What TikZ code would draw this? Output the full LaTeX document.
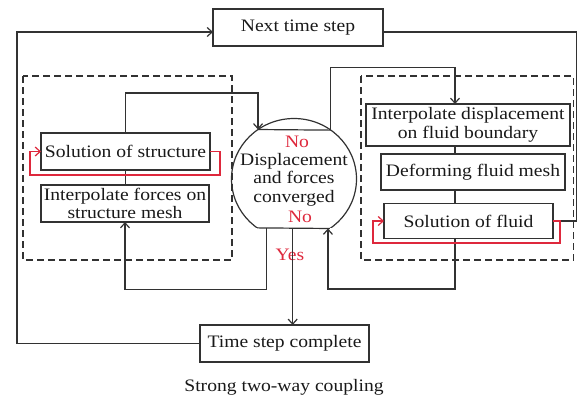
\documentclass[tikz,border=0pt]{standalone}
\usepackage{fontspec}
\setmainfont[FakeStretch=1.12]{Liberation Serif}
\usetikzlibrary{arrows.meta,shapes.geometric}
\definecolor{ink}{RGB}{50,50,50}
\definecolor{redline}{RGB}{222,40,60}
\definecolor{textc}{RGB}{25,25,25}
\begin{document}
\begin{tikzpicture}[x=1pt,y=-1pt,
  box/.style={draw=ink,line width=1.2pt,inner sep=0pt,outer sep=0pt,align=center,text=textc,font=\fontsize{17.5}{18.5}\selectfont},
  conn/.style={draw=ink,line width=1.2pt},
  arr/.style={conn,-{Straight Barb[length=5pt,width=9pt]}},
  redarr/.style={draw=redline,line width=1.2pt,-{Straight Barb[length=5pt,width=9pt]}},
  group/.style={draw=ink,line width=1.2pt,dash pattern=on 7pt off 4pt},
  lbl/.style={text=redline,font=\fontsize{17.5}{18.5}\selectfont,inner sep=0pt}]
\useasboundingbox (0,0) rectangle (578,399);

% dashed groups
\draw[group] (23,76) rectangle (232,260);
\draw[group] (361,76) rectangle (573.5,260);

% boxes
\node[box,minimum width=170pt,minimum height=37pt] (next) at (298,27.5) {Next time step};
\node[box,minimum width=169pt,minimum height=37pt] (sos) at (125.5,151.5) {Solution of structure};
\node[box,minimum width=168pt,minimum height=37pt] (ifs) at (125,203.5) {Interpolate forces on\\structure mesh};
\node[box,minimum width=204pt,minimum height=42pt] (idf) at (468,125) {Interpolate displacement\\on fluid boundary};
\node[box,minimum width=184pt,minimum height=36pt] (dfm) at (473,172) {Deforming fluid mesh};
\node[box,minimum width=169pt,minimum height=35pt] (sof) at (468.5,221) {Solution of fluid};
\node[box,minimum width=169pt,minimum height=37pt] (tsc) at (284.5,343.5) {Time step complete};

% convergence ellipse (bottom cap cut off)
\begin{scope}
  \clip (200,100) rectangle (400,227.5);
  \node[draw=ink,line width=1.2pt,ellipse,inner sep=0pt,outer sep=0pt,minimum width=125pt,minimum height=121pt] (conv) at (294,179) {};
\end{scope}
\node[box,draw=none] (convtext) at (294,179.5) {Displacement\\and forces\\converged};
\draw[conn] (conv.126.7) -- (conv.53.3);
\draw[conn] (conv.233.4) -- (conv.306.6);

% red labels
\node[lbl] (no1) at (297,142) {No};
\node[lbl] (no2) at (300,216.5) {No};
\node[lbl] (yes) at (290,255) {Yes};

% connectors
\draw[arr] (sos.north) -- ++(0,-40) -| (conv.126.7);
\draw[arr] (conv.53.3) -- ++(0,-63) -| ([xshift=-13pt]idf.north);
\draw[conn] (sos.south) -- (sos.south |- ifs.north);
\draw[conn] ([xshift=-13pt]idf.south) -- ([xshift=-13pt]idf.south |- dfm.north);
\draw[conn] ([xshift=-13pt]idf.south |- dfm.south) -- ([xshift=-13pt]idf.south |- sof.north);
\draw[arr] ([xshift=9pt]conv.233.4) -- ++(0,61.5) -| (ifs.south);
\draw[arr] ([xshift=35.5pt]conv.233.4) -- ([xshift=35.5pt]conv.233.4 |- tsc.north);
\draw[arr] ([xshift=-13.5pt]sof.south) -- ++(0,50.5) -| ([xshift=-2pt]conv.306.6);
\draw[arr] (tsc.west) -- ++(-183,0) |- ([yshift=-4.5pt]next.west);
\draw[conn] ([yshift=-4.5pt]next.east) -- ++(193.5,0) |- (sof.east);

% red loops
\draw[redarr] (sos.east) -- ++(10,0) -- ++(0,23.5) -- ++(-190,0) |- (sos.west);
\draw[redarr] (sof.east) -- ++(7,0) -- ++(0,22) -- ++(-187,0) |- (sof.west);

% caption
\node[text=textc,font=\fontsize{17.5}{18.5}\selectfont,inner sep=0pt] (cap) at (284,387) {Strong two-way coupling};
\end{tikzpicture}
\end{document}
